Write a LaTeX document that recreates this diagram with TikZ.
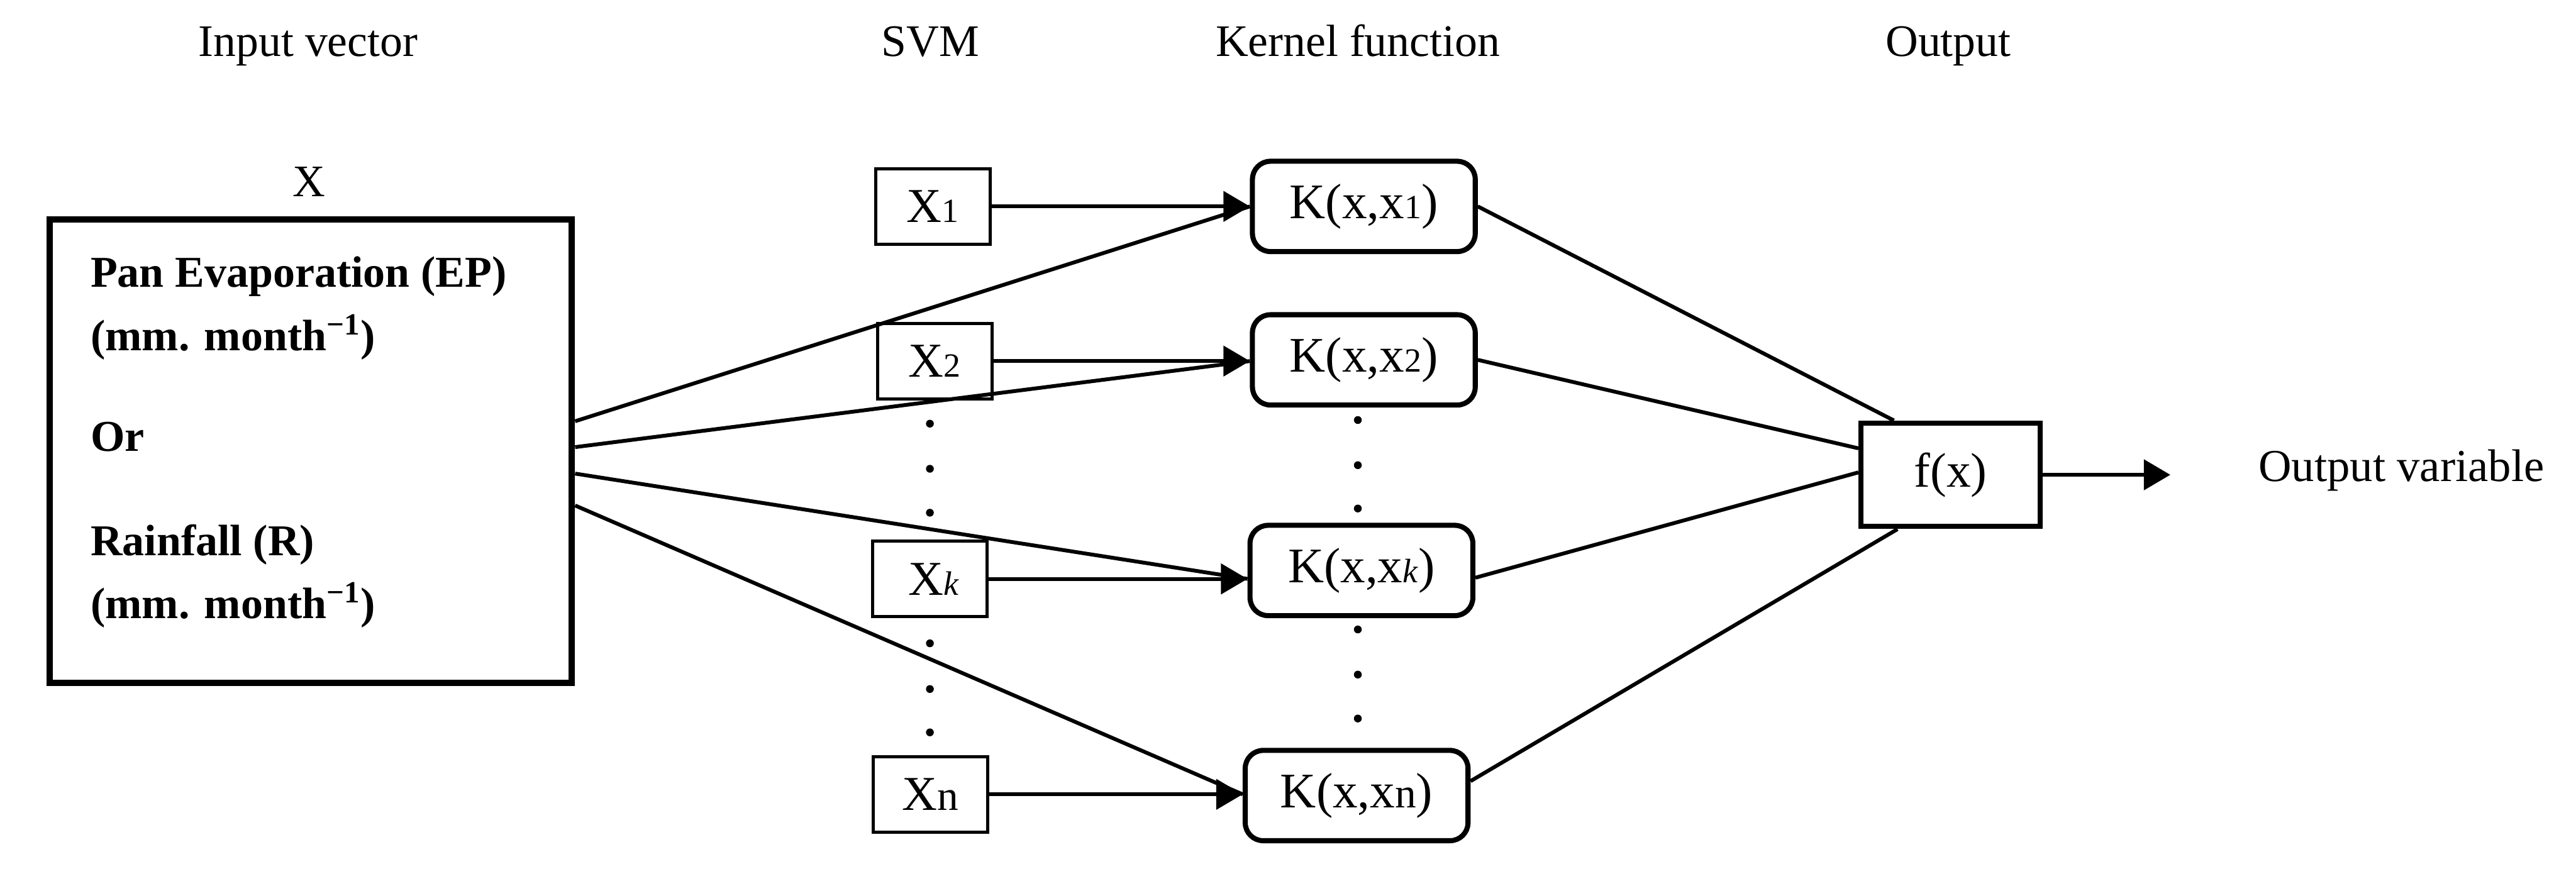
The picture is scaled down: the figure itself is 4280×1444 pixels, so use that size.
\documentclass[tikz,border=0pt]{standalone}
\usepackage{fontspec}
\setmainfont{Liberation Serif}
\usetikzlibrary{arrows.meta,calc}
\newcommand\smsub[1]{{\fontsize{16}{16}\selectfont #1}}
\begin{document}
\begin{tikzpicture}[x=0.01cm,y=-0.01cm,
  hdr/.style={anchor=base,inner sep=0,font=\fontsize{21.3}{24}\selectfont},
  intxt/.style={anchor=base west,inner sep=0,font=\fontsize{20.8}{24}\selectfont\bfseries},
  xbox/.style={draw,line width=1.5pt,minimum width=1.9cm,minimum height=1.25cm,inner sep=0,font=\fontsize{23}{24}\selectfont},
  kbox/.style={draw,rounded corners=0.3cm,line width=2.4pt,minimum width=3.7cm,minimum height=1.5cm,inner sep=0,font=\fontsize{23.5}{24}\selectfont},
  conn/.style={line width=1.8pt},
  arr/.style={conn,-{Triangle[length=0.44cm,width=0.5cm]}},
  vdot/.style={circle,fill,inner sep=0,minimum size=0.13cm}]
\useasboundingbox (0,0) rectangle (4280,1444);

% headers
\node[hdr] (h1) at (512,93) {Input vector};
\node[hdr] (h2) at (1546,93) {SVM};
\node[hdr] (h3) at (2256,93) {Kernel function};
\node[hdr] (h4) at (3237,93) {Output};
\node[hdr] (xl) at (513,327) {X};

% input box
\node[draw,line width=3pt,minimum width=8.67cm,minimum height=7.7cm,inner sep=0] (inbox) at (516.5,750) {};
\node[intxt] (t1) at (150,477) {Pan Evaporation (EP)};
\node[intxt] (t2) at (150,583) {(mm. month\textsuperscript{−1})};
\node[intxt] (t3) at (150,750) {Or};
\node[intxt] (t4) at (150,923) {Rainfall (R)};
\node[intxt] (t5) at (150,1028) {(mm. month\textsuperscript{−1})};

% SVM boxes
\node[xbox] (X1) at (1550,343) {X\smsub{1}};
\node[xbox] (X2) at (1553,600) {X\smsub{2}};
\node[xbox] (Xk) at (1545,962) {\,X\textit{\smsub{k}}};
\node[xbox] (Xn) at (1546,1320) {X{\fontsize{20}{20}\selectfont n}};

% kernel boxes
\node[kbox] (K1) at (2266,343) {K(x,x\smsub{1})};
\node[kbox] (K2) at (2266,598) {K(x,x\smsub{2})};
\node[kbox] (Kk) at (2262,948) {K(x,x\textit{\smsub{k}})};
\node[kbox] (Kn) at (2254,1322) {K(x,x{\fontsize{20}{20}\selectfont n})};

% output box
\node[draw,line width=2.4pt,minimum width=2.98cm,minimum height=1.72cm,inner sep=0,font=\fontsize{23}{24}\selectfont] (fx) at (3241,789) {f(x)};
\node[anchor=base west,inner sep=0,font=\fontsize{21.6}{24}\selectfont] (ov) at (3752,800) {Output variable};

% dots
\foreach \y [count=\i] in {704,779,852,1069,1145,1217}
  \node[vdot] (xd\i) at (1545,\y) {};
\foreach \y [count=\i] in {698,773,845,1046,1121,1194}
  \node[vdot] (kd\i) at (2256,\y) {};

% arrows X -> K
\draw[arr] (X1.east) -- (X1.east -| K1.west);
\draw[arr] (X2.east) -- (X2.east -| K2.west);
\draw[arr] (Xk.east) -- (Xk.east -| Kk.west);
\draw[arr] (Xn.east) -- (Xn.east -| Kn.west);

% input box -> K
\draw[conn] ($(inbox.east)+(0,-50)$) -- (X1.east -| K1.west);
\draw[conn] ($(inbox.east)+(0,-7)$) -- (X2.east -| K2.west);
\draw[conn] ($(inbox.east)+(0,37)$) -- (Xk.east -| Kk.west);
\draw[conn] ($(inbox.east)+(0,90)$) -- (Xn.east -| Kn.west);

% K -> f
\draw[conn] (K1.east) -- ($(fx.north west)+(59,0)$);
\draw[conn] (K2.east) -- ($(fx.west)+(0,-44)$);
\draw[conn] ($(Kk.east)+(0,12)$) -- ($(fx.west)+(0,-4)$);
\draw[conn] ($(Kn.east)+(0,-24)$) -- ($(fx.south west)+(65,0)$);

% output arrow
\coordinate (otip) at (3606,789);
\draw[arr] (fx.east) -- (otip);
\end{tikzpicture}
\end{document}
